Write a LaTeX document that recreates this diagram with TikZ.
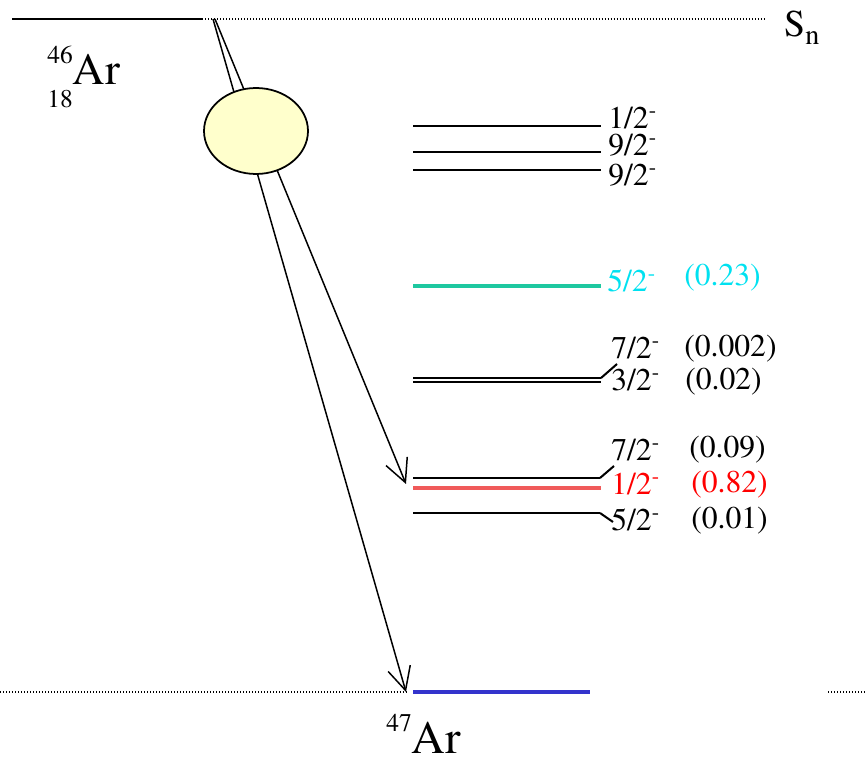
\documentclass[tikz,border=0pt]{standalone}
\usepackage{fontspec}
\setmainfont{TeX Gyre Termes}
\usetikzlibrary{arrows.meta,shapes.geometric}
\definecolor{lvlteal}{RGB}{30,200,160}
\definecolor{txtcyan}{RGB}{0,225,240}
\definecolor{lvlred}{RGB}{240,90,90}
\definecolor{lvlblue}{RGB}{51,51,204}
\definecolor{blobfill}{RGB}{255,255,204}
\begin{document}
\begin{tikzpicture}[x=0.02cm, y=-0.02cm,
  lvl/.style={line width=1.15pt},
  thres/.style={line width=0.6pt, dash pattern=on 0.57pt off 1.14pt},
  jlab/.style={anchor=base west, inner sep=0pt, font=\fontsize{18}{20}\selectfont},
  decay/.style={line width=0.85pt, -{Straight Barb[length=0.46cm,width=0.46cm]}},
  blob/.style={draw, ellipse, line width=1pt, fill=blobfill, minimum width=2.08cm, minimum height=1.72cm, inner sep=0pt}]
  \useasboundingbox (0,0) rectangle (866,763);
  % level ends
  \def\xa{413} \def\xb{601}
  % --- 46Ar and S_n ---
  \draw[lvl] (12,19) -- (202,19) coordinate (sn0);
  \draw[thres] (sn0) -- (765,19);
  \node[anchor=base west, inner sep=0pt] (sn) at (784,37)
    {\fontsize{21.5}{24}\selectfont S\raisebox{-4.5pt}{\fontsize{16}{18}\selectfont n}};
  \node[anchor=base west, inner sep=0pt] (ar46) at (47,85)
    {\fontsize{14.5}{16}\selectfont\rlap{\raisebox{12.5pt}{46}}\raisebox{-13pt}{18}\fontsize{25.5}{28}\selectfont Ar};
  % --- decay paths ---
  \coordinate (src1) at (213,19);
  \coordinate (src2) at (215,19);
  \coordinate (gs) at (406,692);
  \coordinate (ex) at (406,484);
  \draw[decay] (src1) -- (gs);
  \draw[decay] (src2) -- (ex);
  \node[blob] (cn) at (256,131) {};
  % --- upper levels ---
  \draw[lvl] (\xa,126) -- (\xb,126);
  \node[jlab] (j1) at (608,129) {1/2\textsuperscript{-}};
  \draw[lvl] (\xa,152) -- (\xb,152);
  \node[jlab] (j2) at (608,156) {9/2\textsuperscript{-}};
  \draw[lvl] (\xa,170) -- (\xb,170);
  \node[jlab] (j3) at (608,186) {9/2\textsuperscript{-}};
  \draw[lvlteal, line width=2pt] (\xa,286) -- (\xb,286);
  \node[jlab, txtcyan] (j4) at (607,292) {5/2\textsuperscript{-}};
  \node[jlab, txtcyan] (b4) at (684,286) {(0.23)};
  % --- doublet ---
  \draw[lvl] (\xa,378) -- (\xb,378) coordinate (e5);
  \draw[lvl] (\xa,382) -- (\xb,382);
  \node[jlab] (j5) at (611,359) {7/2\textsuperscript{-}};
  \node[jlab] (b5) at (684,357) {(0.002)};
  \node[jlab] (j6) at (611,391) {3/2\textsuperscript{-}};
  \node[jlab] (b6) at (685,390) {(0.02)};
  \draw[lvl] (e5) -- ([shift={(6,5)}]j5.base west);
  % --- lower triplet ---
  \draw[lvl] (\xa,478) -- (600,478) coordinate (e7);
  \node[jlab] (j7) at (611,461) {7/2\textsuperscript{-}};
  \node[jlab] (b7) at (689,458) {(0.09)};
  \draw[lvl] (e7) -- ([shift={(3,5)}]j7.base west);
  \draw[lvlred, line width=2.1pt] (\xa,488) -- (\xb,488);
  \node[jlab, red] (j8) at (611,495) {1/2\textsuperscript{-}};
  \node[jlab, red] (b8) at (691,493) {(0.82)};
  \draw[lvl] (\xa,513) -- (600,513) coordinate (e9);
  \node[jlab] (j9) at (611,531) {5/2\textsuperscript{-}};
  \node[jlab] (b9) at (691,529) {(0.01)};
  \draw[lvl] (e9) -- ([shift={(2,-9)}]j9.base west);
  % --- ground state 47Ar ---
  \draw[thres] (0,692) -- (gs);
  \draw[lvlblue, line width=2.3pt] (\xa,692) -- (590,692);
  \draw[thres] (828,692) -- (866,692);
  \node[anchor=base west, inner sep=0pt] (ar47) at (386,753)
    {\fontsize{14.5}{16}\selectfont\raisebox{12pt}{47}\fontsize{26.5}{28}\selectfont Ar};
\end{tikzpicture}
\end{document}
